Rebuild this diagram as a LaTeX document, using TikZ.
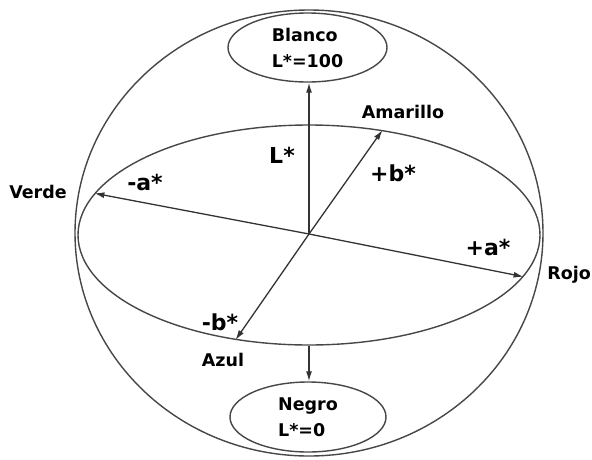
\documentclass[tikz,border=0pt]{standalone}
\usepackage{fontspec}
\setmainfont{DejaVu Sans}
\usetikzlibrary{arrows.meta,shapes.geometric}
\begin{document}
\begin{tikzpicture}[x=1pt,y=-1pt,
  outline/.style={draw=black!72, line width=1.4pt, ellipse, inner sep=0pt},
  arr/.style={draw=black!80, line width=1.3pt, -{Latex[length=10pt,width=6pt]}},
  lbl/.style={font=\bfseries\fontsize{17.5}{26}\selectfont, inner sep=0pt, text=black},
  axlbl/.style={font=\bfseries\fontsize{22}{26}\selectfont, inner sep=0pt, text=black},
  poletext/.style={lbl, align=left}]
\useasboundingbox (0,0) rectangle (592,459);
% sphere and sections
\node[outline, minimum width=468pt, minimum height=446pt] (sphere) at (309,233) {};
\node[outline, minimum width=462pt, minimum height=220pt] (eq) at (309,235) {};
\node[outline, poletext, minimum width=159pt, minimum height=69pt] (blanco) at (307.5,47.5) {Blanco\\L*=100};
\node[outline, poletext, minimum width=156pt, minimum height=70pt] (negro) at (308,417) {Negro\\L*=0};
\coordinate (o) at (309,234);
% axes
\draw[arr] (o) -- (o |- blanco.south);
\draw[arr] (eq.south) -- (eq.south |- negro.north);
\draw[arr] (o) -- (eq.169.8);
\draw[arr] (o) -- (eq.-11);
\draw[arr] (o) -- (eq.55.7);
\draw[arr] (o) -- (eq.235.9);
% labels
\node[axlbl] (lL) at (282,155) {L*};
\node[axlbl] (lbp) at (393,173) {+b*};
\node[axlbl] (lam) at (145,182) {-a*};
\node[axlbl] (lap) at (488,247) {+a*};
\node[axlbl] (lbm) at (220,322) {-b*};
\node[lbl] (verde) at (38,192) {Verde};
\node[lbl, anchor=east] (rojo) at (591,275) {Rojo};
\node[lbl] (azul) at (223,360) {Azul};
\node[lbl] (amarillo) at (403,112) {Amarillo};
\end{tikzpicture}
\end{document}
